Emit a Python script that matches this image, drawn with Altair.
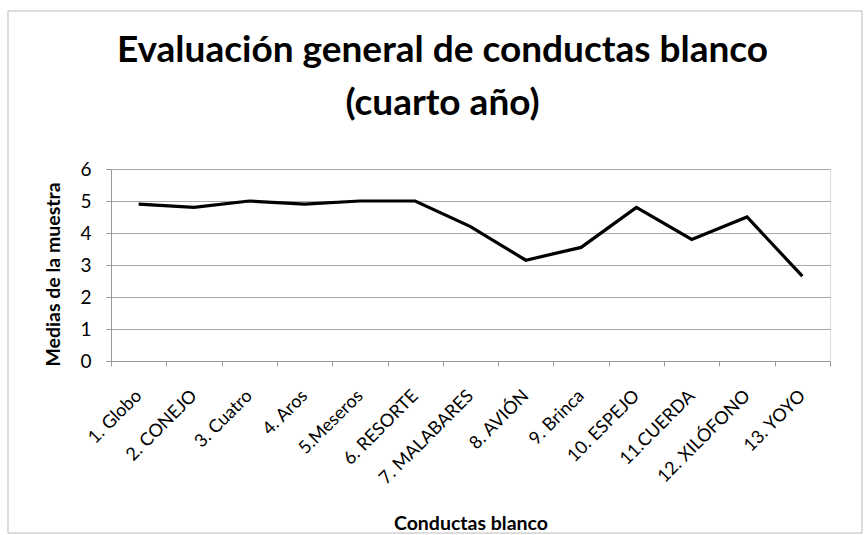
import altair as alt
import pandas as pd

# Target behaviours (x axis) and the sample mean for each one
conductas = [
    "1. Globo", "2. CONEJO", "3. Cuatro", "4. Aros", "5.Meseros",
    "6. RESORTE", "7. MALABARES", "8. AVIÓN", "9. Brinca", "10. ESPEJO",
    "11.CUERDA", "12. XILÓFONO", "13. YOYO",
]
medias = [4.9, 4.8, 5.0, 4.9, 5.0, 5.0, 4.2, 3.15, 3.55, 4.8, 3.8, 4.5, 2.65]
y_ticks = [0, 1, 2, 3, 4, 5, 6]

titulo = ["Evaluación general de conductas blanco", "(cuarto año)"]
titulo_x = "Conductas blanco"
titulo_y = "Medias de la muestra"

df = pd.DataFrame({"conducta": conductas, "media": medias})

W, H = 719, 192
FONT = "Lato"

linea = alt.Chart(df).mark_line(color="black", strokeWidth=3.2, strokeJoin="miter").encode(
    x=alt.X(
        "conducta:N",
        sort=conductas,
        bandPosition=0.5,
        scale=alt.Scale(type="band", paddingInner=0, paddingOuter=0),
        axis=alt.Axis(
            title=titulo_x,
            titleFont=FONT,
            titleFontSize=19.5,
            titleFontWeight="bold",
            titleColor="black",
            titleY=168,
            titleBaseline="alphabetic",
            labelFont=FONT,
            labelFontSize=18,
            labelColor="black",
            labelAngle=-45,
            labelAlign="right",
            labelBaseline="middle",
            labelPadding=27,
            tickBand="extent",
            tickSize=5,
            tickColor="#999999",
            domainColor="#999999",
            grid=False,
        ),
    ),
    y=alt.Y(
        "media:Q",
        scale=alt.Scale(domain=[0, 6], nice=False),
        axis=alt.Axis(
            values=y_ticks,
            title=titulo_y,
            titleFont=FONT,
            titleFontSize=19.5,
            titleFontWeight="bold",
            titleColor="black",
            titleX=-58,
            titleY=105,
            titleBaseline="middle",
            labelFont=FONT,
            labelFontSize=19,
            labelColor="black",
            labelPadding=15,
            tickSize=5,
            tickColor="#999999",
            domainColor="#999999",
            gridColor="#a8a8a8",
            gridWidth=1,
        ),
    ),
)

# Thin frame around the whole chart
marco = alt.Chart(pd.DataFrame({"k": [0]})).mark_rect(
    fill="white", fillOpacity=0, stroke="#bbbbbb", strokeWidth=1
).encode(
    x=alt.value(-103), x2=alt.value(751),
    y=alt.value(-158), y2=alt.value(364),
)

chart = alt.layer(marco, linea).properties(
    width=W,
    height=H,
    autosize=alt.AutoSizeParams(type="none"),
    padding={"left": 111, "top": 169, "right": 35, "bottom": 174},
    title=alt.TitleParams(
        titulo,
        font=FONT,
        fontSize=37,
        fontWeight="bold",
        color="black",
        anchor="middle",
        frame="group",
        lineHeight=53,
        offset=-112,
        dx=-28,
    ),
).configure_view(strokeWidth=0).configure(background="white")

chart.save("out.html", embed_options={"renderer": "svg", "actions": False})
